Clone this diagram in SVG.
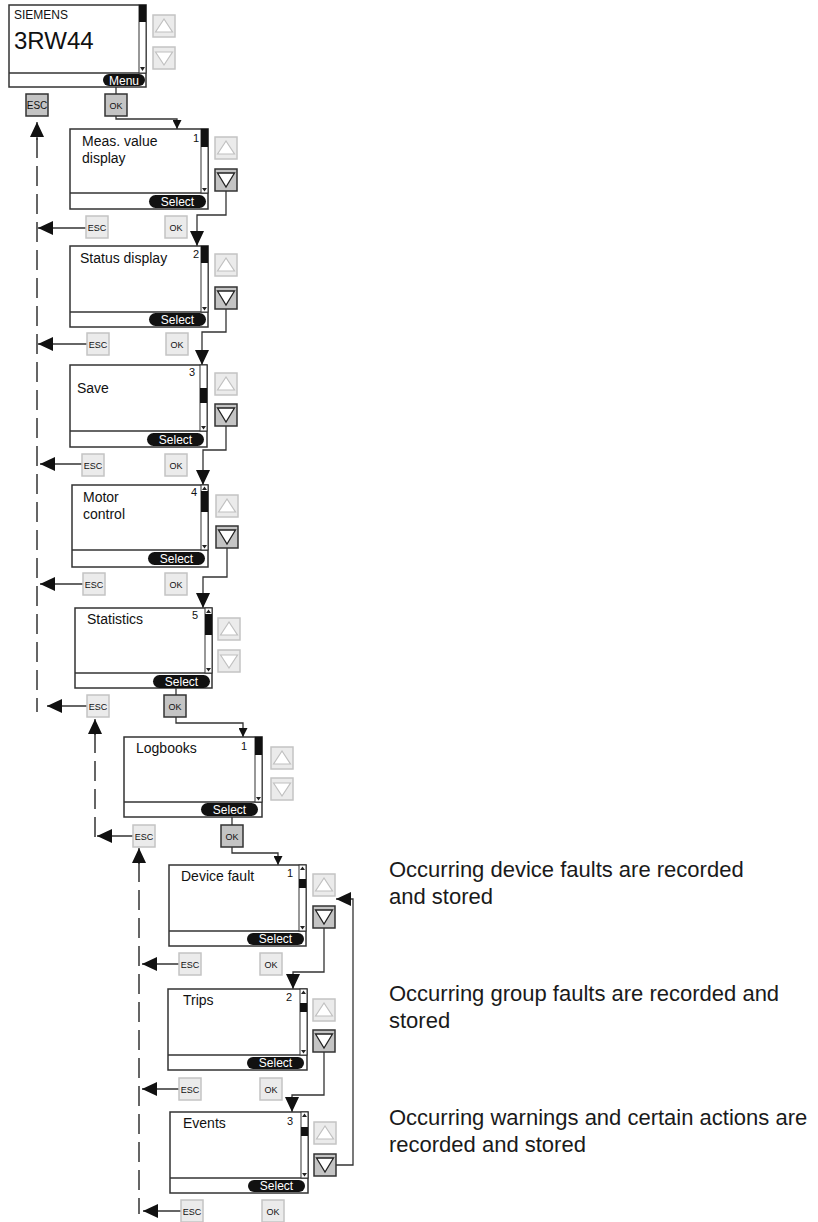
<svg xmlns="http://www.w3.org/2000/svg" xmlns:xlink="http://www.w3.org/1999/xlink" width="818" height="1222" viewBox="0 0 818 1222">
<style>
text{font-family:"Liberation Sans",Arial,sans-serif;fill:#111}
.scr{fill:#fff;stroke:#333;stroke-width:1.5}
.div{stroke:#333;stroke-width:1.5}
.sb{fill:#fff;stroke:#333;stroke-width:1}
.th{fill:#111}
.st{fill:#222}
.ln{fill:none;stroke:#333;stroke-width:1.3}
.dash{fill:none;stroke:#333;stroke-width:1.5;stroke-dasharray:20 8}
.btnL{fill:#ebebeb;stroke:#c4c4c4;stroke-width:1.5}
.btnD{fill:#c4c4c4;stroke:#333;stroke-width:1.5}
.triL{fill:#fff;stroke:#c0c0c0;stroke-width:1.2}
.triD{fill:#fff;stroke:#222;stroke-width:1.3}
.pill{fill:#111}
.pt{fill:#fff;font-size:12px;text-anchor:middle}
.lbl{font-size:14px}
.num{font-size:11px}
.key{font-size:9px;text-anchor:middle}
.desc{font-size:22px;fill:#1a1a1a}
</style>
<defs>
<marker id="big" markerUnits="userSpaceOnUse" markerWidth="15" markerHeight="14" refX="15" refY="7" orient="auto">
<path d="M0,0 L15,7 L0,14 z" fill="#111"/>
</marker>
<marker id="small" markerUnits="userSpaceOnUse" markerWidth="9" markerHeight="9" refX="9" refY="4.5" orient="auto">
<path d="M0,0 L9,4.5 L0,9 z" fill="#111"/>
</marker>
<g id="upL"><rect class="btnL" x="0" y="0" width="22" height="22"/><polygon class="triL" points="2.5,17 11,4 19.5,17"/></g>
<g id="dnL"><rect class="btnL" x="0" y="0" width="22" height="22"/><polygon class="triL" points="2.5,5 11,18 19.5,5"/></g>
<g id="dnD"><rect class="btnD" x="0" y="0" width="22" height="22"/><polygon class="triD" points="2.5,4 11,18 19.5,4"/></g>
<g id="escL"><rect class="btnL" x="0" y="0" width="22" height="22"/><text class="key" x="11" y="14.5">ESC</text></g>
<g id="okL"><rect class="btnL" x="0" y="0" width="22" height="22"/><text class="key" x="11" y="14.5">OK</text></g>
<g id="escD"><rect class="btnD" x="0" y="0" width="22" height="22"/><text class="key" x="11" y="14.5" style="font-size:10px">ESC</text></g>
<g id="okD"><rect class="btnD" x="0" y="0" width="22" height="22"/><text class="key" x="11" y="14.5">OK</text></g>
</defs>
<rect width="818" height="1222" fill="#fff"/>

<g id="connectors">
<path class="ln" d="M116,86 V94"/>
<path class="ln" d="M116,116 V119 H177 V129" marker-end="url(#small)"/>
<path class="ln" d="M226,191 V215 H197 V246" marker-end="url(#big)"/>
<path class="ln" d="M226,309 V332 H202 V365" marker-end="url(#big)"/>
<path class="ln" d="M226,426 V450 H203 V485" marker-end="url(#big)"/>
<path class="ln" d="M227,548 V577 H203 V608" marker-end="url(#big)"/>
<path class="ln" d="M176,688 V695"/>
<path class="ln" d="M176,717 V723 H243 V737" marker-end="url(#small)"/>
<path class="ln" d="M232,815 V825"/>
<path class="ln" d="M232,847 V853 H278 V865" marker-end="url(#small)"/>
<path class="ln" d="M324,928 V972 H293 V989" marker-end="url(#big)"/>
<path class="ln" d="M324,1052 V1095 H292 V1112" marker-end="url(#big)"/>
<path class="ln" d="M336,1165 H353 V899 H336" marker-end="url(#big)"/>
<path class="dash" d="M37,138 V712"/>
<path class="ln" d="M37,140 V122" marker-end="url(#big)"/>
<path class="dash" d="M95,733 V842"/>
<path class="ln" d="M95,735 V719" marker-end="url(#big)"/>
<path class="dash" d="M139,862 V1214"/>
<path class="ln" d="M139,864 V848" marker-end="url(#big)"/>
<path class="ln" d="M86,228 H38" marker-end="url(#big)"/>
<path class="ln" d="M87,344 H38" marker-end="url(#big)"/>
<path class="ln" d="M82,464 H40" marker-end="url(#big)"/>
<path class="ln" d="M83,584 H40" marker-end="url(#big)"/>
<path class="ln" d="M87,706 H47" marker-end="url(#big)"/>
<path class="ln" d="M133,836 H97" marker-end="url(#big)"/>
<path class="ln" d="M179,964 H142" marker-end="url(#big)"/>
<path class="ln" d="M179,1089 H142" marker-end="url(#big)"/>
<path class="ln" d="M181,1211 H143" marker-end="url(#big)"/>
</g>

<g id="main-display">
<rect class="scr" x="9" y="5" width="137" height="82"/>
<line class="div" x1="9" y1="73" x2="146" y2="73"/>
<rect class="sb" x="139" y="5" width="7" height="68"/>
<rect class="th" x="139" y="5" width="7" height="17"/>
<polygon class="st" points="140,67 145,67 142.5,71"/>
<text x="14" y="19" font-size="12">SIEMENS</text>
<text x="14" y="49" font-size="24">3RW44</text>
<rect class="pill" x="103" y="74" width="42" height="12" rx="6"/>
<text class="pt" x="124" y="84.5">Menu</text>
<use href="#upL" x="153" y="15"/>
<use href="#dnL" x="153" y="47"/>
<use href="#escD" x="26" y="94"/>
<use href="#okD" x="105" y="94"/>
</g>

<g id="meas-value-display">
<rect class="scr" x="70" y="129" width="138" height="80"/>
<line class="div" x1="70" y1="193" x2="208" y2="193"/>
<rect class="sb" x="201" y="129" width="7" height="64"/>
<rect class="th" x="201" y="129" width="7" height="18"/>
<polygon class="st" points="202,188 207,188 204.5,191.5"/>
<text class="lbl" x="82" y="146">Meas. value</text>
<text class="lbl" x="82" y="163">display</text>
<text class="num" x="193" y="142">1</text>
<rect class="pill" x="149" y="195" width="57" height="13" rx="6.5"/>
<text class="pt" x="177.5" y="205.5">Select</text>
<use href="#upL" x="215" y="137"/>
<use href="#dnD" x="215" y="169"/>
<use href="#escL" x="86" y="216"/>
<use href="#okL" x="165" y="216"/>
</g>

<g id="status-display">
<rect class="scr" x="70" y="246" width="138" height="81"/>
<line class="div" x1="70" y1="312" x2="208" y2="312"/>
<rect class="sb" x="201" y="246" width="7" height="66"/>
<rect class="th" x="201" y="246" width="7" height="17"/>
<polygon class="st" points="202,307 207,307 204.5,310.5"/>
<text class="lbl" x="80" y="263">Status display</text>
<text class="num" x="193" y="258">2</text>
<rect class="pill" x="149" y="313" width="57" height="13" rx="6.5"/>
<text class="pt" x="177.5" y="323.5">Select</text>
<use href="#upL" x="215" y="254"/>
<use href="#dnD" x="215" y="287"/>
<use href="#escL" x="87" y="333"/>
<use href="#okL" x="166" y="333"/>
</g>

<g id="save">
<rect class="scr" x="70" y="365" width="137" height="82"/>
<line class="div" x1="70" y1="431" x2="207" y2="431"/>
<rect class="sb" x="200" y="365" width="7" height="66"/>
<rect class="th" x="200" y="388" width="7" height="15"/>
<polygon class="st" points="201,426 206,426 203.5,429.5"/>
<text class="lbl" x="77" y="393">Save</text>
<text class="num" x="189" y="376">3</text>
<rect class="pill" x="147" y="433" width="57" height="13" rx="6.5"/>
<text class="pt" x="175.5" y="443.5">Select</text>
<use href="#upL" x="215" y="373"/>
<use href="#dnD" x="215" y="404"/>
<use href="#escL" x="82" y="454"/>
<use href="#okL" x="165" y="454"/>
</g>

<g id="motor-control">
<rect class="scr" x="72" y="485" width="136" height="82"/>
<line class="div" x1="72" y1="550" x2="208" y2="550"/>
<rect class="sb" x="201" y="485" width="7" height="65"/>
<polygon class="st" points="202,490 207,490 204.5,486.5"/>
<rect class="th" x="201" y="491" width="7" height="21"/>
<polygon class="st" points="202,545 207,545 204.5,548.5"/>
<text class="lbl" x="83" y="502">Motor</text>
<text class="lbl" x="83" y="519">control</text>
<text class="num" x="191" y="496">4</text>
<rect class="pill" x="148" y="552" width="57" height="13" rx="6.5"/>
<text class="pt" x="176.5" y="562.5">Select</text>
<use href="#upL" x="216" y="495"/>
<use href="#dnD" x="216" y="526"/>
<use href="#escL" x="83" y="573"/>
<use href="#okL" x="165" y="573"/>
</g>

<g id="statistics">
<rect class="scr" x="75" y="608" width="137" height="80"/>
<line class="div" x1="75" y1="673" x2="212" y2="673"/>
<rect class="sb" x="205" y="608" width="7" height="65"/>
<polygon class="st" points="206,613 211,613 208.5,609.5"/>
<rect class="th" x="205" y="614" width="7" height="21"/>
<polygon class="st" points="206,668 211,668 208.5,671.5"/>
<text class="lbl" x="87" y="624">Statistics</text>
<text class="num" x="192" y="619">5</text>
<rect class="pill" x="153" y="675" width="57" height="13" rx="6.5"/>
<text class="pt" x="181.5" y="685.5">Select</text>
<use href="#upL" x="218" y="618"/>
<use href="#dnL" x="218" y="650"/>
<use href="#escL" x="87" y="695"/>
<use href="#okD" x="164" y="695"/>
</g>

<g id="logbooks">
<rect class="scr" x="124" y="737" width="138" height="80"/>
<line class="div" x1="124" y1="802" x2="262" y2="802"/>
<rect class="sb" x="255" y="737" width="7" height="65"/>
<rect class="th" x="255" y="737" width="7" height="18"/>
<polygon class="st" points="256,797 261,797 258.5,800.5"/>
<text class="lbl" x="136" y="753">Logbooks</text>
<text class="num" x="241" y="750">1</text>
<rect class="pill" x="201" y="803" width="57" height="13" rx="6.5"/>
<text class="pt" x="229.5" y="813.5">Select</text>
<use href="#upL" x="271" y="747"/>
<use href="#dnL" x="271" y="778"/>
<use href="#escL" x="133" y="825"/>
<use href="#okD" x="221" y="825"/>
</g>

<g id="device-fault">
<rect class="scr" x="169" y="865" width="137" height="81"/>
<line class="div" x1="169" y1="931" x2="306" y2="931"/>
<rect class="sb" x="299" y="865" width="7" height="66"/>
<polygon class="st" points="300,870 305,870 302.5,866.5"/>
<rect class="th" x="299" y="879" width="7" height="9"/>
<polygon class="st" points="300,926 305,926 302.5,929.5"/>
<text class="lbl" x="181" y="881">Device fault</text>
<text class="num" x="287" y="877">1</text>
<rect class="pill" x="247" y="933" width="57" height="12" rx="6"/>
<text class="pt" x="275.5" y="943">Select</text>
<use href="#upL" x="313" y="874"/>
<use href="#dnD" x="313" y="906"/>
<use href="#escL" x="179" y="953"/>
<use href="#okL" x="260" y="953"/>
</g>

<g id="trips">
<rect class="scr" x="168" y="989" width="139" height="81"/>
<line class="div" x1="168" y1="1055" x2="307" y2="1055"/>
<rect class="sb" x="300" y="989" width="7" height="66"/>
<polygon class="st" points="301,994 306,994 303.5,990.5"/>
<rect class="th" x="300" y="1003" width="7" height="9"/>
<polygon class="st" points="301,1050 306,1050 303.5,1053.5"/>
<text class="lbl" x="183" y="1005">Trips</text>
<text class="num" x="286" y="1001">2</text>
<rect class="pill" x="247" y="1057" width="57" height="12" rx="6"/>
<text class="pt" x="275.5" y="1067">Select</text>
<use href="#upL" x="313" y="999"/>
<use href="#dnD" x="313" y="1030"/>
<use href="#escL" x="179" y="1078"/>
<use href="#okL" x="260" y="1078"/>
</g>

<g id="events">
<rect class="scr" x="170" y="1112" width="138" height="81"/>
<line class="div" x1="170" y1="1178" x2="308" y2="1178"/>
<rect class="sb" x="301" y="1112" width="7" height="66"/>
<polygon class="st" points="302,1117 307,1117 304.5,1113.5"/>
<rect class="th" x="301" y="1127" width="7" height="9"/>
<polygon class="st" points="302,1173 307,1173 304.5,1176.5"/>
<text class="lbl" x="183" y="1128">Events</text>
<text class="num" x="287" y="1125">3</text>
<rect class="pill" x="248" y="1180" width="57" height="12" rx="6"/>
<text class="pt" x="276.5" y="1190">Select</text>
<use href="#upL" x="314" y="1122"/>
<use href="#dnD" x="314" y="1154"/>
<use href="#escL" x="181" y="1200"/>
<use href="#okL" x="262" y="1200"/>
</g>

<g id="descriptions">
<text class="desc" x="389" y="877">Occurring device faults are recorded</text>
<text class="desc" x="389" y="904">and stored</text>
<text class="desc" x="389" y="1001">Occurring group faults are recorded and</text>
<text class="desc" x="389" y="1028">stored</text>
<text class="desc" x="389" y="1125">Occurring warnings and certain actions are</text>
<text class="desc" x="389" y="1152">recorded and stored</text>
</g>
</svg>
